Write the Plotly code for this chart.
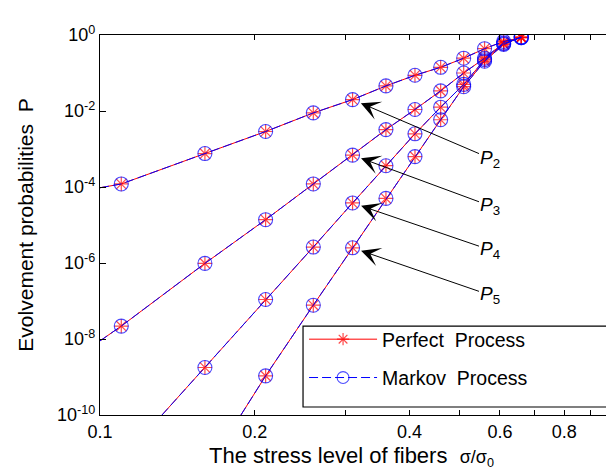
import math
import plotly.graph_objects as go

# ---------------- data ----------------
stress = [0.11, 0.16, 0.21, 0.26, 0.31, 0.36, 0.41, 0.46, 0.51, 0.56, 0.61, 0.66]

# log10 of the evolvement probabilities at the marked stress levels
logP2 = [-3.92, -3.12, -2.54, -2.05, -1.70, -1.34, -1.06, -0.85, -0.61, -0.36, -0.17, -0.07]
logP3 = [-7.66, -6.01, -4.86, -3.92, -3.16, -2.49, -1.96, -1.47, -1.00, -0.61, -0.21, -0.07]
logP4 = [-8.75, -6.96, -5.58, -4.42, -3.44, -2.60, -1.90, -1.30, -0.65, -0.23, -0.06]
logP5 = [-8.97, -7.11, -5.60, -4.30, -3.20, -2.23, -1.36, -0.69, -0.25, -0.05]

# where each curve's line leaves the frame (left or bottom edge)
line_start_x = [0.10, 0.10, 0.132, 0.188]
line_start_logP = [-4.02, -8.05, -10.0, -10.0]

curve_subs = ["2", "3", "4", "5"]
label_logP = [-3.25, -4.50, -5.66, -6.85]   # where the labels sit
label_x = 0.575
arrow_x = 0.31
series_names = ["Perfect  Process", "Markov  Process"]
x_title = "The stress level of fibers  <span style='font-size:18px'>σ/σ<sub>0</sub></span>"
y_title = "Evolvement probabilities  P"

curves_x = [stress, stress, stress[1:], stress[2:]]
curves_logP = [logP2, logP3, logP4, logP5]

# ---------------- assemble traces ----------------
def combined(marker_size):
    xs, ys, sizes = [], [], []
    for cx, cl, sx, sl in zip(curves_x, curves_logP, line_start_x, line_start_logP):
        xs += [sx] + list(cx) + [None]
        ys += [10 ** sl] + [10 ** v for v in cl] + [None]
        sizes += [0] + [marker_size] * len(cx) + [0]
    return xs, ys, sizes

fig = go.Figure()

xs, ys, sz = combined(12)
fig.add_trace(go.Scatter(
    x=xs, y=ys, mode="lines+markers", name=series_names[0],
    legendgroup="a",
    line=dict(color="#ff0000", width=1),
    marker=dict(symbol="asterisk", size=sz, color="#ff0000",
                line=dict(color="#ff0000", width=1.2)),
    connectgaps=False,
))

xs, ys, sz = combined(14)
fig.add_trace(go.Scatter(
    x=xs, y=ys, mode="lines+markers", name=series_names[1],
    legendgroup="b",
    line=dict(color="#0000ff", width=1, dash="9px,4px"),
    marker=dict(symbol="circle-open", size=sz, color="#0000ff",
                line=dict(color="#0000ff", width=1.1)),
    connectgaps=False,
))

# ---------------- annotations (arrows to the 0.31 markers) ----------------
for sub, cx, cl, ly in zip(curve_subs, curves_x, curves_logP, label_logP):
    i = cx.index(arrow_x)
    fig.add_annotation(
        x=math.log10(arrow_x), y=cl[i], xref="x", yref="y",
        ax=math.log10(label_x), ay=ly, axref="x", ayref="y",
        text="<i>P</i><sub>" + sub + "</sub>",
        showarrow=True, arrowhead=3, arrowsize=3.2, arrowwidth=1,
        arrowcolor="black", standoff=9,
        font=dict(size=19, color="black", family="Liberation Sans, Arial"),
    )

# x-axis title placed a little closer to the tick labels than plotly allows
fig.add_annotation(
    x=0.49, y=-0.108, xref="paper", yref="paper", xanchor="center", yanchor="middle",
    text=x_title, showarrow=False, font=dict(size=22, color="black"),
)

# legend frame (wider than plotly's auto-sized legend box)
fig.add_shape(
    type="rect", xref="paper", yref="paper",
    x0=0.395, x1=0.9865, y0=0.021, y1=0.234,
    line=dict(color="black", width=1.2), fillcolor="rgba(0,0,0,0)", layer="above",
)

# ---------------- layout ----------------
font_family = "Liberation Sans, Arial, sans-serif"
xticks = [0.1, 0.2, 0.3, 0.4, 0.5, 0.6, 0.7, 0.8, 0.9, 1.0]
xticktext = ["0.1", "0.2", "", "0.4", "", "0.6", "", "0.8", "", "1"]
yticks = [1e-10, 1e-8, 1e-6, 1e-4, 1e-2, 1]
yticktext = ["10<sup>-10</sup>", "10<sup>-8</sup>", "10<sup>-6</sup>",
             "10<sup>-4</sup>", "10<sup>-2</sup>", "10<sup>0</sup>"]

fig.update_layout(
    width=614, height=475,
    margin=dict(l=92, r=3, t=27, b=68),
    paper_bgcolor="white", plot_bgcolor="white",
    font=dict(family=font_family, size=18, color="black"),
    showlegend=True,
    legend=dict(
        x=0.397, y=0.25, xanchor="left", yanchor="top",
        bgcolor="rgba(0,0,0,0)", borderwidth=0,
        font=dict(size=19.5, family=font_family),
        itemwidth=68, traceorder="grouped", tracegroupgap=10,
    ),
)
fig.update_xaxes(
    type="log", range=[-1, 0],
    tickvals=xticks, ticktext=xticktext,
    ticks="inside", ticklen=5, tickcolor="black", tickwidth=1,
    showline=True, linecolor="black", linewidth=1.3, mirror="ticks",
    showgrid=False, zeroline=False,
    tickfont=dict(size=18), ticklabeloverflow="allow",
)
fig.update_yaxes(
    type="log", range=[-10, 0],
    tickvals=yticks, ticktext=yticktext,
    ticks="inside", ticklen=6, tickcolor="black", tickwidth=1,
    showline=True, linecolor="black", linewidth=1.3, mirror="ticks",
    showgrid=False, zeroline=False,
    tickfont=dict(size=18),
    title=dict(text=y_title, font=dict(size=21), standoff=17),
)

fig.write_html("out.html")
